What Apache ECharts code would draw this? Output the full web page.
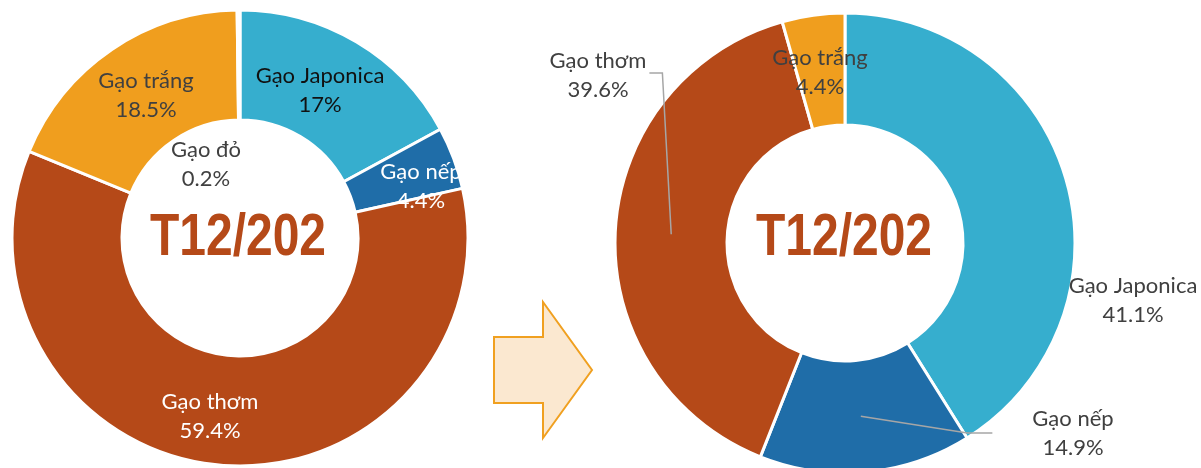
<!DOCTYPE html>
<html><head><meta charset="utf-8">
<script src="https://cdn.jsdelivr.net/npm/echarts@6/dist/echarts.min.js"></script>
<style>html,body{margin:0;padding:0;background:#fff}#c{width:1201px;height:468px}</style>
</head><body><div id="c"></div>
<script>
const leftNames = ['Gạo Japonica', 'Gạo nếp', 'Gạo thơm', 'Gạo trắng', 'Gạo đỏ'];
const leftValues = [17, 4.4, 59.4, 18.5, 0.2];
const rightNames = ['Gạo Japonica', 'Gạo nếp', 'Gạo thơm', 'Gạo trắng'];
const rightValues = [41.1, 14.9, 39.6, 4.4];
const centerText = 'T12/202';

const colorMap = {
  'Gạo Japonica': '#36AECE',
  'Gạo nếp': '#1F6DA8',
  'Gạo thơm': '#B54918',
  'Gạo trắng': '#F09E1E',
  'Gạo đỏ': '#3A8F87'
};
const leftLabelColor = {'Gạo Japonica':'#111111','Gạo nếp':'#ffffff','Gạo thơm':'#ffffff','Gạo trắng':'#404040','Gạo đỏ':'#404040'};
const leftLabelPos = [[320, 90], [421, 186], [210, 416], [146, 95], [206, 164]];
const rightLabelPos = [[1133, 300], [1073, 433], [598, 75], [820, 72]];
// leader line: side of label it leaves from, gap from label edge, horizontal elbow length
const rightLineSpec = [null, {side: -1, gap: 40, elbow: 25, dy: 0}, {side: 1, gap: 3, elbow: 13, dy: -2}, null];

const FONT = 'Lato, "Open Sans", sans-serif';
const chart = echarts.init(document.getElementById('c'), null, {renderer: 'canvas'});

const labelBase = {
  formatter: '{b}\n{c}%',
  fontFamily: FONT,
  fontSize: 22,
  lineHeight: 29,
  align: 'center'
};

function sliceAnchor(seriesIndex, dataIndex) {
  const data = chart.getModel().getSeriesByIndex(seriesIndex).getData();
  const l = data.getItemLayout(dataIndex);
  const mid = (l.startAngle + l.endAngle) / 2;
  const rr = (l.r + l.r0) / 2;
  return [l.cx + rr * Math.cos(mid), l.cy + rr * Math.sin(mid)];
}

const rightCommon = {
  type: 'pie',
  center: [845, 243],
  radius: [118, 230],
  startAngle: 90,
  clockwise: true,
  avoidLabelOverlap: false
};

chart.setOption({
  animation: false,
  series: [
    {
      type: 'pie',
      center: [240, 238],
      radius: [118, 228],
      startAngle: 90,
      clockwise: true,
      avoidLabelOverlap: false,
      itemStyle: {borderColor: '#ffffff', borderWidth: 3},
      label: Object.assign({}, labelBase, {position: 'inside'}),
      labelLine: {show: false},
      labelLayout: function (p) {
        const xy = leftLabelPos[p.dataIndex];
        return {x: xy[0], y: xy[1], align: 'center', verticalAlign: 'middle'};
      },
      data: leftNames.map((n, i) => ({
        name: n, value: leftValues[i],
        itemStyle: {color: colorMap[n]},
        label: {color: leftLabelColor[n]}
      }))
    },
    Object.assign({}, rightCommon, {
      z: 2,
      itemStyle: {borderColor: '#ffffff', borderWidth: 3},
      label: {show: false},
      labelLine: {show: false},
      data: rightNames.map((n, i) => ({name: n, value: rightValues[i], itemStyle: {color: colorMap[n]}}))
    }),
    Object.assign({}, rightCommon, {
      z: 4,
      silent: true,
      itemStyle: {color: 'rgba(0,0,0,0)', borderWidth: 0},
      label: Object.assign({}, labelBase, {position: 'outside', color: '#404040'}),
      labelLine: {show: true, length: 10, length2: 10, smooth: false, lineStyle: {color: '#A6A6A6', width: 1.5}},
      labelLayout: function (p) {
        const i = p.dataIndex;
        const xy = rightLabelPos[i];
        const out = {x: xy[0], y: xy[1], align: 'center', verticalAlign: 'middle'};
        const spec = rightLineSpec[i];
        if (spec) {
          const w = p.labelRect.width;
          const sx = xy[0] + spec.side * (w / 2 + spec.gap);
          const sy = xy[1] + spec.dy;
          const ex = sx + spec.side * spec.elbow;
          const a = sliceAnchor(2, i);
          out.labelLinePoints = [a, [ex, sy], [sx, sy]];
        }
        return out;
      },
      data: rightNames.map((n, i) => ({
        name: n, value: rightValues[i],
        labelLine: {show: !!rightLineSpec[i]}
      }))
    })
  ],
  graphic: [
    {type: 'text', x: 238, y: 238, z: 10, scaleX: 0.8, style: {text: centerText, align: 'center', verticalAlign: 'middle', fill: '#B54918', font: 'bold 60px "Liberation Sans", sans-serif'}},
    {type: 'text', x: 844, y: 238, z: 10, scaleX: 0.8, style: {text: centerText, align: 'center', verticalAlign: 'middle', fill: '#B54918', font: 'bold 60px "Liberation Sans", sans-serif'}},
    {type: 'polygon', z: 5, shape: {points: [[494, 337], [543, 337], [543, 302], [592, 370], [543, 438], [543, 403], [494, 403]]},
     style: {fill: '#FBE8D0', stroke: '#F0A020', lineWidth: 2}}
  ]
});
</script></body></html>
